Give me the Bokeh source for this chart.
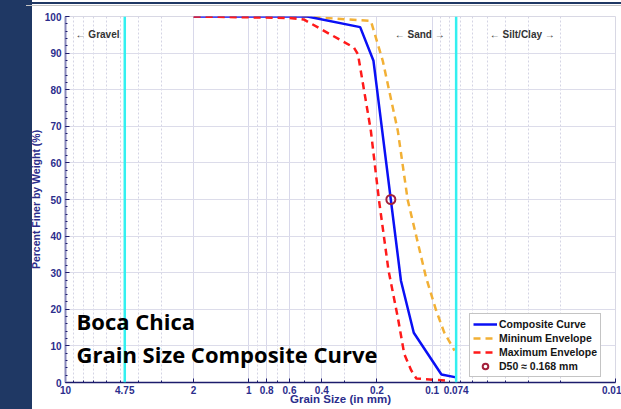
from bokeh.plotting import figure
from bokeh.models import (Range1d, FixedTicker, Span, Label, Legend, LegendItem, Div, Row, Column)
from bokeh.embed import file_html
from bokeh.resources import INLINE

# ---- data (grain size in mm, percent finer) ----
comp_x = [2.0, 0.48, 0.247, 0.209, 0.148, 0.126, 0.089, 0.074]
comp_y = [100, 100, 97.1, 87.9, 27.8, 13.6, 2.2, 1.4]

min_x = [2.0, 0.5, 0.216, 0.186, 0.154, 0.136, 0.108, 0.095, 0.086, 0.0755]
min_y = [100, 100, 98.8, 87.9, 68.8, 49.9, 28.7, 19.6, 13.7, 8.7]

max_x = [2.0, 0.6, 0.502, 0.267, 0.254, 0.235, 0.216, 0.195, 0.173, 0.154, 0.142, 0.130, 0.122, 0.082]
max_y = [100, 99.6, 99.2, 91.5, 89.7, 79.7, 68.8, 49.8, 30.6, 17.8, 7.8, 3.3, 1.1, 0.5]

d50_x = [0.168]
d50_y = [50]

sieve_lines = [4.75, 0.074]

x_major = [10, 4.75, 2, 1, 0.8, 0.6, 0.4, 0.2, 0.1, 0.074, 0.01]
x_labels = ["10", "4.75", "2", "1", "0.8", "0.6", "0.4", "0.2", "0.1", "0.074", "0.01"]
x_minor = [9, 8, 7, 6, 5, 4, 3, 0.9, 0.7, 0.5, 0.3, 0.09, 0.08, 0.07, 0.06, 0.05, 0.04, 0.03, 0.02]
y_major = list(range(0, 101, 10))
y_minor = list(range(0, 101, 2))

NAVY = "#2b2d8c"
SIDEBAR = "#1f3864"

p = figure(width=595, height=401, x_axis_type="log",
           x_range=Range1d(10, 0.01), y_range=Range1d(0, 100),
           output_backend="svg", toolbar_location=None,
           min_border_left=34, min_border_right=6, min_border_top=8, min_border_bottom=27)
p.outline_line_color = "#d8d8e4"
p.background_fill_color = "white"
p.border_fill_color = None

# axes
xt = FixedTicker(ticks=x_major, minor_ticks=x_minor)
p.xaxis.ticker = xt
p.xaxis.major_label_overrides = {v: s for v, s in zip(x_major, x_labels)}
p.xaxis.major_tick_in = 4
p.xaxis.major_tick_out = 0
p.xaxis.minor_tick_in = 2
p.xaxis.minor_tick_out = 0
p.xaxis.major_label_standoff = 3
p.xaxis.axis_line_color = "#1c1c6c"
p.xaxis.axis_line_width = 1.5
p.xaxis.major_tick_line_color = "#1c1c6c"
p.xaxis.minor_tick_line_color = "#1c1c6c"
p.xaxis.axis_label = "Grain Size (in mm)"
p.xaxis.axis_label_standoff = -4

yt = FixedTicker(ticks=y_major, minor_ticks=y_minor)
p.yaxis.ticker = yt
p.yaxis.major_tick_in = 4
p.yaxis.major_tick_out = 0
p.yaxis.minor_tick_in = 2
p.yaxis.minor_tick_out = 0
p.yaxis.major_label_standoff = 4
p.yaxis.axis_line_color = "#8888bb"
p.yaxis.axis_line_width = 2
p.yaxis.major_tick_line_color = "#1c1c6c"
p.yaxis.minor_tick_line_color = "#1c1c6c"
p.yaxis.axis_label = "Percent Finer by Weight (%)"
p.yaxis.axis_label_standoff = 0

for ax in (p.xaxis, p.yaxis):
    ax.major_label_text_font = "Liberation Sans"
    ax.major_label_text_font_style = "bold"
    ax.major_label_text_font_size = "10px"
    ax.major_label_text_color = NAVY
    ax.axis_label_text_font = "Liberation Sans"
    ax.axis_label_text_font_style = "bold"
    ax.axis_label_text_color = NAVY
p.xaxis.axis_label_text_font_size = "11.5px"
p.yaxis.axis_label_text_font_size = "10.5px"

# grids
p.xgrid.ticker = xt
p.xgrid.grid_line_color = "#d8d8ea"
p.xgrid.minor_grid_line_color = "#d4d4e4"
p.xgrid.minor_grid_line_dash = "2 2"
p.ygrid.ticker = FixedTicker(ticks=y_major)
p.ygrid.grid_line_color = "#dcdcea"

for s in sieve_lines:
    p.add_layout(Span(location=s, dimension="height", line_color="#33f0f0", line_width=2.5))

# curves
r_min = p.line(min_x, min_y, line_color="#f2b035", line_width=2.5, line_dash="7 5")
r_comp = p.line(comp_x, comp_y, line_color="#0a10f5", line_width=2.5)
r_max = p.line(max_x, max_y, line_color="#ff1a1a", line_width=2.5, line_dash="7 5")
r_d50 = p.scatter(d50_x, d50_y, marker="circle", size=9, line_color="#a3213b",
                  line_width=2, fill_color=None)

legend = Legend(items=[
    LegendItem(label="Composite Curve", renderers=[r_comp]),
    LegendItem(label="Mininum Envelope", renderers=[r_min]),
    LegendItem(label="Maximum Envelope", renderers=[r_max]),
    LegendItem(label="D50 \u2248 0.168 mm", renderers=[r_d50]),
], location=(404, 5))
legend.label_text_font = "Liberation Sans"
legend.label_text_font_style = "bold"
legend.label_text_font_size = "10.5px"
legend.label_text_color = "#151515"
legend.label_standoff = 2
legend.glyph_width = 24
legend.glyph_height = 14
legend.label_height = 14
legend.spacing = 0
legend.padding = 3
legend.margin = 0
legend.border_line_color = "#8a8a8a"
legend.border_line_width = 1
legend.background_fill_alpha = 1
p.add_layout(legend, "center")

# zone annotations
for xv, txt in [(8.81, "\u2190 Gravel"), (0.160, "\u2190 Sand \u2192"), (0.0485, "\u2190 Silt/Clay  \u2192")]:
    p.add_layout(Label(x=xv, y=95, text=txt, text_font="Liberation Sans", text_font_style="bold",
                       text_font_size="10px", text_color="#333333", text_baseline="middle"))

# title block
p.add_layout(Label(x=8.71, y=16.7, text="Boca Chica", text_font="Open Sans", text_font_style="bold",
                   text_font_size="22px", text_color="black", text_baseline="alphabetic"))
p.add_layout(Label(x=8.71, y=7.7, text="Grain Size Composite Curve", text_font="Open Sans",
                   text_font_style="bold", text_font_size="22px", text_color="black",
                   text_baseline="alphabetic"))

sidebar = Div(width=32, height=409, margin=0, styles={"background-color": SIDEBAR})
topbar = Div(width=595, height=8, margin=0,
             styles={"background": "linear-gradient(to bottom, transparent 0px, transparent 2px, "
                                   "#1f3864 2px, #1f3864 4px, transparent 4px, transparent 5px, "
                                   "#c4c4c4 5px, #c4c4c4 6px, transparent 6px)"})
col = Column(children=[topbar, p], spacing=0, margin=(0, 0, 0, -6))
layout = Row(children=[sidebar, col], spacing=0)

open("out.html", "w").write(file_html(layout, INLINE))
